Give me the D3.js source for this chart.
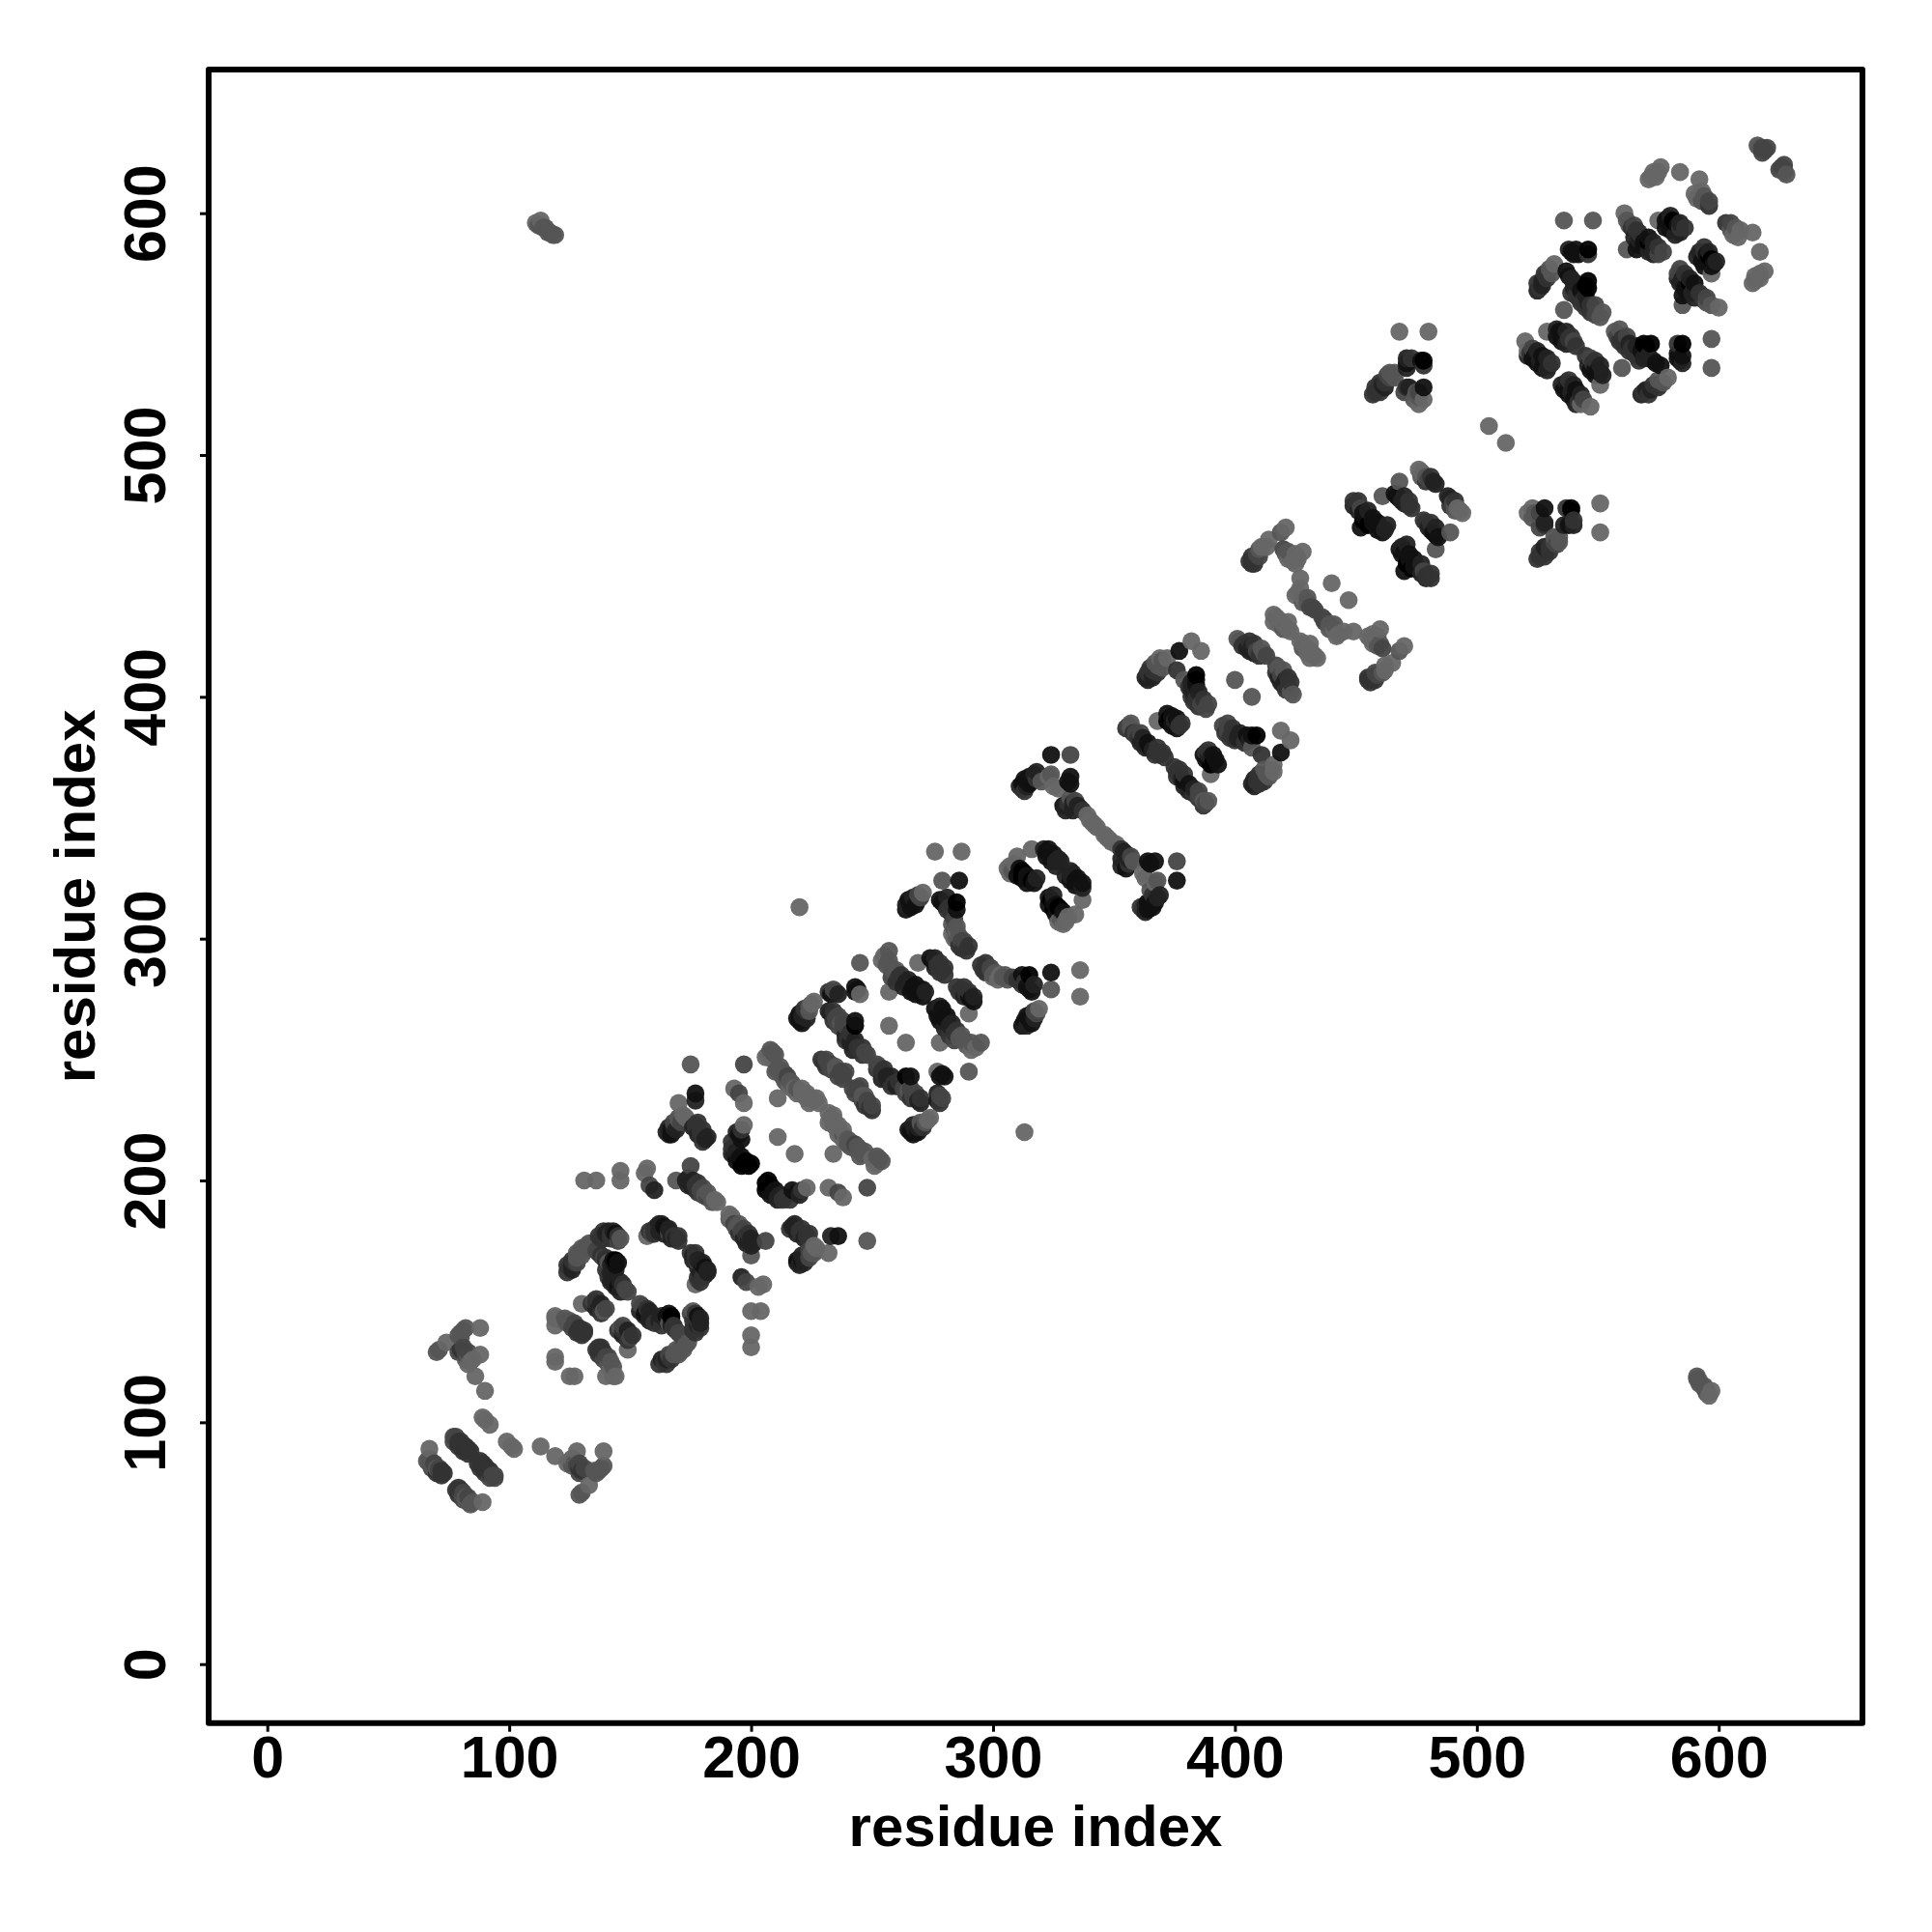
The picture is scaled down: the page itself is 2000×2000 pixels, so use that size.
<!DOCTYPE html>
<html><head><meta charset="utf-8"><script src="https://cdn.jsdelivr.net/npm/d3@7"></script>
<style>html,body{margin:0;background:#fff}svg{display:block}</style></head><body>
<svg id="c" width="2000" height="2000"></svg>
<script>
// contacts as [residue i, residue j, strength 0-6]; the map is symmetric, so each is shown at (i,j) and (j,i)
const farContacts=[[111,596,0],[113,595,1],[115,594,1],[117,592,1],[119,591,1],[112,595,1],[114,594,1],[116,592,1],[118,591,1],[113,597,0]];
const block70=[[67,89,0],[66,84,1],[67,83,1],[68,82,1],[69,82,1],[70,81,1],[71,80,2],[73,79,3],
[67,85,1],[69,83,2],[71,81,2],[72,80,3],[70,79,3],[68,81,2],[72,78,3],
[77,94,2],[78,93,2],[79,92,3],[80,91,3],[81,90,3],[82,89,3],[83,89,3],
[78,94,2],[80,92,3],[82,90,3],[84,88,3],[77,92,2],[79,90,3],[81,88,3],[83,87,3],
[89,102,0],[90,101,0],[92,99,0],[90,113,0],[86,119,0],[88,128,0],[88,139,0],
[79,136,1],[81,138,1],[82,139,1],[80,137,1],[80,135,1],[74,133,0],[71,130,1],[70,129,1],
[80,130,3],[81,129,3],[82,128,2],[83,127,1],[84,125,0],[79,129,2],[81,131,2],[83,129,2],[82,126,1],[85,126,0],[83,124,0]];
const block120=[[119,144,0],[119,143,0],[119,140,0],[119,127,0],[119,125,0],[130,149,0],
[122,142,0],[124,141,1],[125,141,1],[127,140,2],[129,138,3],[131,137,3],
[123,143,1],[125,142,1],[127,141,2],[129,139,3],[131,138,3],[126,139,2],[128,137,3],[130,136,3],
[135,150,2],[136,149,3],[137,147,4],[138,147,3],[139,146,1],[134,149,3],[136,147,4],[138,145,3],[136,151,3],[138,149,4],[140,147,2],
[125,164,3],[126,165,4],[127,166,3],[128,168,1],[129,170,1],[132,173,1],
[124,162,3],[124,165,3],[126,167,3],[128,170,1],[130,172,1],[126,163,4],[128,166,2],[130,169,1],[133,174,1],[131,171,1],
[138,176,3],[140,178,4],[142,178,3],[144,178,5],[146,176,1],[137,177,3],[139,179,3],[141,179,4],[143,179,4],[145,177,3],[139,176,3],[142,176,3],[145,175,2],
[137,170,2],[139,168,2],[140,167,4],[141,166,1],[144,167,6],[144,165,5],[141,160,3],[143,158,4],[145,156,5],[148,155,2],
[136,171,2],[138,169,3],[140,168,3],[142,165,4],[143,167,5],[145,166,5],[144,163,4],[142,162,4],[140,163,3],[142,158,4],[144,156,4],[146,154,4],[147,157,3],[146,158,4],[149,154,2],
[157,177,0],[158,179,3],[160,180,3],[162,182,4],[164,181,5],[166,178,2],[167,178,4],[169,176,4],
[159,178,2],[161,181,3],[163,182,4],[165,180,5],[167,176,4],[168,177,3],[170,175,3],[160,178,3],[162,179,4],[164,178,4],[166,180,4],[170,177,3]];
const block200=[[131,200,0],[136,200,0],[146,204,0],[146,200,0],[157,205,0],[156,203,0],[158,198,2],[160,196,4],[169,200,1],[175,206,2],
[173,200,4],[175,199,4],[177,198,3],[179,196,2],[181,194,1],[185,192,0],
[174,201,4],[176,200,4],[178,199,3],[180,197,2],[182,195,1],[174,198,4],[176,197,4],[178,195,3],[180,194,2],[182,193,2],[184,191,1],[186,191,0],
[170,232,0],[177,236,5],[177,233,4],[166,219,4],[167,221,5],[168,222,4],[170,225,1],[172,227,0],[177,223,3],[179,220,3],[181,217,4],
[165,220,4],[166,222,4],[168,224,2],[170,226,1],[167,219,5],[169,221,4],[171,224,2],[173,226,0],
[178,224,3],[180,221,3],[182,218,4],[176,222,4],[178,219,4],[180,216,3],
[193,238,0],[195,236,2],[197,232,0],[197,223,0],[195,219,5],[193,214,3],[193,211,4],[195,209,5],[197,207,6],[199,206,6],
[192,216,3],[192,213,3],[192,211,4],[194,212,4],[194,208,5],[196,210,5],[196,206,6],[198,208,6],[200,207,6],[196,217,5],[194,220,4],[196,221,3],
[211,218,0],[175,248,1],[197,248,2]];
const block250=[[209,253,1],[207,252,0],[209,250,0],[211,246,1],[214,244,1],[215,240,1],[216,239,0],[218,238,0],[221,236,0],[223,234,0],[226,233,0],[211,234,0],
[208,254,1],[206,251,0],[210,252,1],[212,247,1],[210,245,1],[213,245,1],[215,243,2],[213,243,1],[216,241,1],[214,241,1],[217,240,1],[219,238,1],[217,238,0],[219,236,0],[221,238,0],[223,236,0],[225,234,0],[222,235,0],[224,232,0],[228,232,0],[227,234,0],
[220,266,5],[221,268,4],[222,269,4],[223,270,3],[226,274,0],[233,277,5],[235,278,2],[243,280,5],[245,277,0],
[219,267,5],[220,269,5],[222,271,3],[224,272,1],[221,265,5],[223,267,4],[225,273,0],[224,270,1],[234,279,2],[232,278,3],[236,277,4],[244,279,5],[243,278,5],
[233,269,4],[235,267,2],[237,265,1],[239,264,2],[243,266,5],[243,264,6],[240,259,3],[243,256,4],[245,254,3],[247,253,2],
[232,270,4],[234,270,3],[236,268,2],[238,266,2],[234,266,3],[236,264,2],[238,263,2],[239,260,4],[241,261,3],[241,257,4],[243,258,4],[239,258,3],[242,254,4],[244,255,3],[246,255,3],[248,252,2],[246,252,3],
[257,264,0],[245,290,1],[257,278,0],
[257,295,1],[255,293,0],[256,289,1],[259,286,1],[261,284,3],[264,282,4],[267,280,5],[270,278,5],
[254,291,0],[257,291,1],[258,288,1],[260,287,1],[262,285,3],[265,283,4],[268,281,5],[271,279,5],[258,284,2],[260,282,3],[263,280,4],[266,278,5],[268,277,5],[271,276,5],[272,278,4],
[269,290,0],[275,291,5],[276,290,5],[277,289,3],[279,287,3],[274,292,5],[276,292,4],[278,290,3],[280,288,3],[276,288,4],[278,286,3],[280,285,3],
[230,249,3],[232,248,2],[235,246,1],[238,244,2],[229,250,3],[231,250,2],[233,248,2],[235,247,1],[237,245,2],[231,247,3],[233,246,2],[236,243,2],[238,242,2],[239,245,2]];
const block310=[[271,319,0],[269,316,5],[267,315,5],[265,313,4],[279,324,1],[286,324,5],[279,315,5],[285,315,6],[285,312,5],[281,312,3],[281,317,4],[284,304,1],[285,303,0],[286,301,1],[288,297,3],[287,299,2],
[264,314,4],[265,316,5],[267,317,4],[269,318,2],[266,313,5],[268,314,5],[270,317,2],[264,312,5],
[278,316,5],[280,314,5],[282,313,3],[283,310,3],[284,308,2],[283,306,1],[285,305,1],[283,302,0],[285,300,1],[287,296,3],[289,295,3],[286,297,3],[288,299,2],[290,297,3],[284,300,0],
[276,336,0],[287,336,0],[220,313,0],
[306,329,0],[307,327,0],[308,328,1],[310,334,0],[312,328,6],[314,326,5],[316,324,6],[316,337,0],[322,336,5],[324,334,5],[326,332,4],
[307,330,0],[309,329,1],[311,329,5],[313,327,6],[315,325,5],[317,323,5],[310,326,5],[312,325,6],[314,323,5],[309,331,0],[318,325,4],
[321,337,4],[323,337,5],[325,335,5],[327,333,4],[322,334,5],[324,332,5],[326,330,4],[328,332,4],
[342,347,0],[339,351,0],[336,354,4],[333,356,4],[332,358,1],[332,364,5],[332,367,5],[324,368,1],[327,362,0],[317,368,4],[314,365,5],[312,362,3],[324,376,5],[332,376,2],[323,367,0],[325,363,0],[333,353,4],[329,355,5],[331,365,5],[320,365,1],
[337,353,3],[335,355,4],[334,357,2],[331,356,3],[330,353,4],[340,349,0],[343,346,0],[341,348,0],
[313,366,5],[315,367,5],[318,369,4],[311,363,4],[313,361,3],[315,364,5],[316,366,5],[318,366,3],[312,364,5],[314,363,4]];
const block400=[[382,423,0],[386,419,0],[377,419,5],[376,411,3],[370,415,1],[368,413,1],[366,411,3],[365,409,3],[364,407,4],[384,409,6],[379,407,1],[382,403,4],[384,399,3],[386,397,2],[388,395,2],[384,405,5],
[363,408,4],[364,410,3],[365,412,3],[367,414,1],[369,416,0],[372,416,0],[366,408,4],[368,410,3],[370,412,1],
[382,406,4],[384,407,5],[381,404,3],[383,401,4],[385,402,4],[383,398,3],[385,396,3],[387,399,3],[389,397,2],[382,400,3],
[368,390,0],[373,391,6],[375,390,4],[376,387,5],[377,388,3],[372,393,5],[374,392,5],[376,391,5],[378,389,3],[374,389,5],[376,389,4],[372,390,6],[374,388,5],
[356,388,2],[357,387,1],[359,385,2],[361,381,4],[364,381,5],[366,378,4],[369,376,3],
[355,387,3],[357,389,1],[358,385,3],[360,383,3],[362,383,4],[363,379,4],[365,379,5],[367,376,3],[370,377,3],[368,379,3],[371,375,3],[361,385,2],
[400,407,1],[402,423,1],[404,422,3],[407,421,4],[409,419,2],[412,418,1],
[401,424,1],[403,421,3],[405,420,4],[406,419,4],[408,418,4],[410,417,3],[406,423,3],[408,422,3],[411,420,1],[413,417,2],
[417,433,0],[419,431,0],[422,428,0],[416,434,0],[418,432,0],[420,430,0],[423,427,0],[418,430,0],[420,428,1],[422,431,0],[416,431,0]];
const block460=[[408,457,3],[407,455,3],[409,459,2],[411,462,0],[414,465,0],[421,470,0],[419,468,1],[420,461,2],[422,457,0],[426,457,0],[428,460,0],[425,455,0],[427,449,0],[426,443,0],[428,441,0],[430,439,1],[432,437,2],[440,447,0],
[406,456,3],[408,455,3],[407,458,3],[410,461,1],[410,458,2],[413,462,0],[422,460,1],[424,456,0],[425,459,0],[421,459,1],[425,442,0],[427,445,0],[428,439,1],[430,441,1],[431,437,2],[433,436,2],
[449,481,3],[450,479,3],[452,478,2],[454,474,5],[457,472,5],[460,470,5],[462,469,4],[452,470,5],
[449,479,4],[451,481,3],[451,477,4],[453,476,5],[455,477,4],[453,473,6],[455,471,6],[457,474,5],[459,472,5],[459,469,5],[461,468,5],[463,471,4],
[461,483,1],[468,489,1],[467,483,5],[469,481,4],[472,479,3],[466,484,5],[468,482,5],[470,483,4],[472,481,3],[470,480,4],[473,478,3],
[477,493,0],[479,491,1],[482,489,4],[476,494,0],[478,492,0],[480,490,2],[481,491,3],[483,488,4],[479,489,3],[477,491,1],[505,512,0]];
const block530=[[468,551,0],[480,551,0],[478,539,6],[478,537,3],[471,538,5],[473,540,3],[478,528,5],[471,528,3],[476,521,0],[474,523,1],[476,524,1],[458,526,3],[459,527,3],[461,529,4],[462,530,3],[464,532,2],[466,534,1],[464,534,1],[471,540,4],
[457,525,3],[458,528,3],[460,526,3],[460,530,3],[462,528,4],[463,533,2],[466,532,1],[477,539,5],[471,536,4],[472,528,4],[470,526,2],[475,526,1],[478,523,0],[476,526,2]];
const block570=[[520,547,0],[521,543,0],[522,542,3],[524,541,5],[526,539,4],[528,538,5],[530,537,4],
[521,541,4],[523,540,5],[525,538,5],[527,536,5],[529,535,4],[523,544,2],[525,543,4],[527,541,5],[529,540,4],[531,538,3],
[529,551,0],[534,551,5],[536,549,5],[538,548,3],[540,547,2],[533,552,4],[535,550,5],[537,551,4],[539,549,3],[533,549,5],[535,547,5],[537,546,4],[541,545,3],
[526,569,3],[527,572,4],[529,575,3],[530,577,1],[532,579,0],[539,584,5],[541,585,5],[546,585,6],[546,583,3],
[525,571,3],[525,568,4],[527,570,4],[529,573,3],[531,575,1],[528,575,3],[538,585,4],[540,583,5],[542,583,5],
[538,574,5],[546,572,6],[546,569,6],[540,569,4],[542,565,3],[544,564,3],[546,563,4],[548,560,3],[551,557,1],[536,560,1],[536,597,1],[548,597,1],
[537,576,5],[539,573,4],[541,571,4],[543,568,5],[545,570,6],[539,567,3],[541,566,3],[543,563,3],[545,561,3],[547,559,3],[549,558,2],[545,566,4],[547,562,3],[549,562,2],[552,559,1],
[561,600,0],[563,595,1],[566,593,3],[567,589,4],[569,588,5],[571,588,6],[573,585,4],[575,583,2],[562,585,1],[566,585,5],
[562,597,1],[564,594,3],[565,595,2],[567,592,3],[565,590,4],[567,587,5],[569,586,5],[571,584,4],[573,583,4],[571,590,5],[573,588,4],[575,586,3],[577,584,2],
[575,597,0],[579,598,5],[581,597,6],[583,595,5],[584,594,3],[578,597,5],[580,599,4],[582,596,6],[584,596,4],[586,594,3],[578,594,5],[580,593,5],[582,591,4],[584,592,4],
[572,615,0],[573,617,0],[576,619,0],[584,617,0],[592,614,0],[592,607,0],[594,605,1],[596,603,3],
[571,614,0],[574,615,0],[575,617,0],[591,606,0],[593,605,1],[594,607,1],[596,605,2],[590,608,0],[593,609,0],
[617,627,1],[618,627,2],[619,626,2],[616,628,1],[620,627,2],[618,625,2]];
const tickValues=[0,100,200,300,400,500,600];
const axisLabel="residue index";

const contacts=[...farContacts,...block70,...block120,...block200,...block250,...block310,...block400,...block460,...block530,...block570];
const points=contacts.flatMap(([i,j,s])=>[{x:i,y:j,s},{x:j,y:i,s}]).sort((a,b)=>d3.ascending(a.x,b.x)||d3.ascending(a.y,b.y));

const L=216,R=1928,T=72,B=1783.7;
const x=d3.scaleLinear().domain([-24.24,659.4]).range([L,R]);
const y=d3.scaleLinear().domain([-24.37,659.4]).range([B,T]);
const shade=d3.scaleLinear().domain([0,6]).range(["#666666","#000000"]);
const svg=d3.select("#c");
const font="'Liberation Sans',Arial,Helvetica,sans-serif";

svg.append("g").selectAll("circle").data(points).join("circle")
 .attr("cx",d=>x(d.x)).attr("cy",d=>y(d.y)).attr("r",9.3)
 .attr("fill",d=>shade(d.s)).attr("fill-opacity",0.95);

const gx=svg.append("g").attr("transform",`translate(0,${B})`)
 .call(d3.axisBottom(x).tickValues(tickValues).tickFormat(d3.format("d")).tickSize(9).tickSizeOuter(0).tickPadding(4));
const gy=svg.append("g").attr("transform",`translate(${L},0)`)
 .call(d3.axisLeft(y).tickValues(tickValues).tickFormat(d3.format("d")).tickSize(9).tickSizeOuter(0));
[gx,gy].forEach(g=>{g.select(".domain").remove();
 g.selectAll("line").attr("stroke","#000").attr("stroke-width",3);
 g.selectAll("text").attr("fill","#000").style("font-family",font).style("font-size","61px").style("font-weight","bold");});
gy.selectAll("text").attr("transform","rotate(-90)").attr("x",0).attr("y",-45).attr("dy",0).attr("text-anchor","middle");

svg.append("rect").attr("x",L).attr("y",T).attr("width",R-L).attr("height",B-T)
 .attr("fill","none").attr("stroke","#000").attr("stroke-width",6).attr("stroke-linejoin","round");

svg.append("text").attr("x",(L+R)/2).attr("y",1911).attr("text-anchor","middle")
 .style("font-family",font).style("font-size","60px").style("font-weight","bold").text(axisLabel);
svg.append("text").attr("transform",`translate(98,${(T+B)/2}) rotate(-90)`).attr("text-anchor","middle")
 .style("font-family",font).style("font-size","60px").style("font-weight","bold").text(axisLabel);
</script></body></html>
